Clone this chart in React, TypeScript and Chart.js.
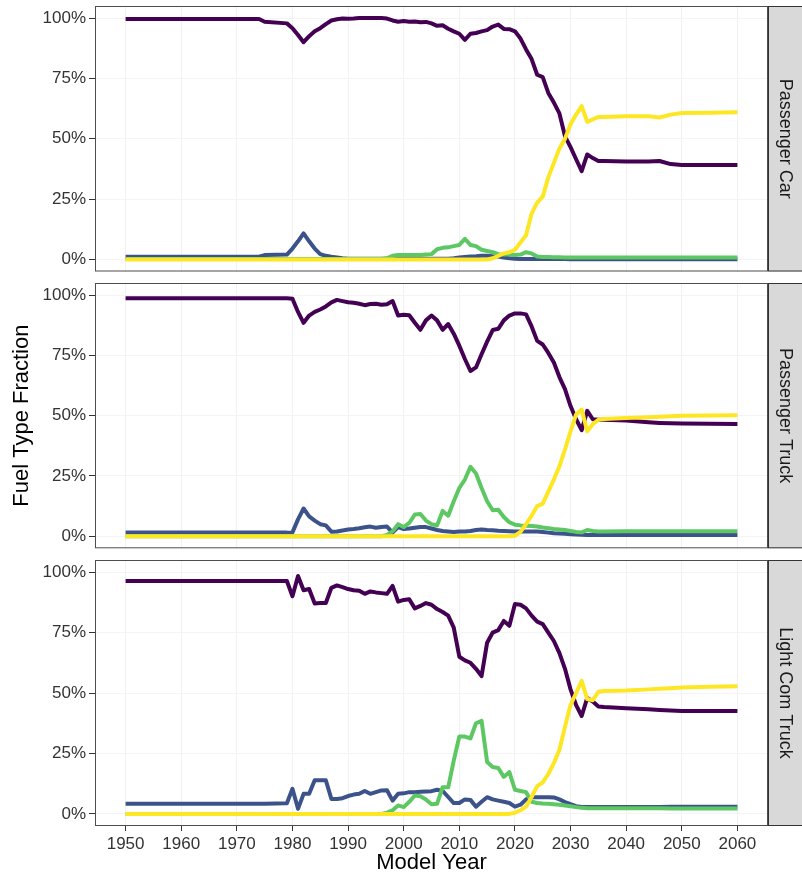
import React, { useEffect, useRef } from "react";
import { Chart, registerables } from "chart.js";

Chart.register(...registerables);
Chart.defaults.font.family = '"Liberation Sans", Arial, sans-serif';

// Model years at which values were read
const years = [
  1950, 1974, 1975,
  1979,
  1980, 1981, 1982, 1983, 1984, 1985, 1986, 1987, 1988, 1989,
  1990, 1991, 1992, 1993, 1994, 1995, 1996, 1997, 1998, 1999,
  2000, 2001, 2002, 2003, 2004, 2005, 2006, 2007, 2008, 2009,
  2010, 2011, 2012, 2013, 2014, 2015, 2016, 2017, 2018, 2019,
  2020, 2021, 2022, 2023, 2024, 2025, 2026, 2027, 2028, 2029,
  2030, 2031, 2032, 2033, 2034, 2035, 2036,
  2040, 2044, 2046, 2048, 2050, 2055, 2060,
];

const xTicks = [1950, 1960, 1970, 1980, 1990, 2000, 2010, 2020, 2030, 2040, 2050, 2060];
const yTicks = [0, 25, 50, 75, 100];
const panelLabels = ["Passenger Car", "Passenger Truck", "Light Com Truck"];

// ---- Passenger Car ----
const carPurple = [
  99.6, 99.6, 98.5,
  97.8,
  95.8, 93, 90, 92.5, 94.5, 95.8, 97.5, 99, 99.5, 99.8,
  99.7, 99.8, 100, 100, 100, 100, 100, 99.8, 99, 98.5,
  98.8, 98.5, 98.6, 98.3, 98.4, 97.8, 96.8, 97, 95.6, 94.5,
  93.5, 91, 93.5, 93.8, 94.5, 95, 96.5, 97.3, 95.5, 95.4,
  94.5, 91.5, 87, 83, 76.5, 75.5, 69, 65, 60.5, 51,
  46.5, 41.5, 36.6, 43.5, 42, 40.8, 40.8,
  40.6, 40.6, 40.8, 39.5, 39.1, 39.1, 39.1,
];
const carBlue = [
  1.1, 1.1, 1.8,
  2,
  4.5, 7.5, 10.8, 7.5, 4.5, 2.2, 1.5, 1.1, 0.8, 0.5,
  0.3, 0.3, 0.3, 0.3, 0.3, 0.3, 0.3, 0.3, 0.3, 0.3,
  0.3, 0.3, 0.3, 0.3, 0.3, 0.3, 0.3, 0.3, 0.3, 0.5,
  0.8, 1, 1.2, 1.3, 1.5, 1.5, 1.3, 1.2, 0.8, 0.5,
  0.3, 0.2, 0.2, 0.2, 0.2, 0.2, 0.2, 0.2, 0.2, 0.2,
  0.1, 0.1, 0.1, 0.1, 0.1, 0.1, 0.1,
  0.1, 0.1, 0.1, 0.1, 0.1, 0.1, 0.1,
];
const carGreen = [
  0.2, 0.2, 0.2,
  0.2,
  0.2, 0.2, 0.2, 0.2, 0.2, 0.2, 0.2, 0.2, 0.2, 0.2,
  0.2, 0.2, 0.2, 0.2, 0.2, 0.2, 0.2, 0.5, 1.5, 1.8,
  1.8, 1.8, 1.8, 1.8, 2, 2.2, 4.2, 4.8, 5, 5.5,
  6, 8.5, 6, 5.5, 4, 3.5, 3, 2.2, 2, 2,
  1.8, 2, 3, 2.5, 1.2, 1, 1, 0.9, 0.9, 0.8,
  0.8, 0.8, 0.8, 0.8, 0.8, 0.8, 0.8,
  0.8, 0.8, 0.8, 0.8, 0.8, 0.8, 0.8,
];
const carYellow = [
  0, 0, 0,
  0,
  0, 0, 0, 0, 0, 0, 0, 0, 0, 0,
  0, 0, 0, 0, 0, 0, 0, 0, 0, 0,
  0, 0, 0, 0, 0, 0, 0, 0, 0, 0,
  0, 0, 0, 0, 0, 0, 0.5, 1.5, 2.5, 3,
  4, 7, 10, 19, 23.5, 26, 34, 40, 46, 50,
  56, 60, 63.5, 57, 58, 59, 59,
  59.3, 59.3, 58.8, 60, 60.7, 60.8, 61,
];

// ---- Passenger Truck ----
const truckPurple = [
  98.7, 98.7, 98.7,
  98.7,
  98.5, 93, 88.5, 91.5, 93, 94, 95.3, 97, 98, 97.5,
  97, 96.8, 96.4, 95.8, 96.3, 96.4, 96, 96.2, 97.5, 91.5,
  91.8, 91.6, 88.5, 85.6, 89.5, 91.5, 89.5, 85.6, 88, 84,
  79, 73.5, 68.5, 70, 75.5, 80.7, 85.5, 86, 89.5, 91.5,
  92.4, 92.4, 92, 87, 81, 79.5, 76, 72, 66, 61,
  54, 48.5, 44, 52, 48.5, 48.3, 48.3,
  48, 47.3, 47, 46.8, 46.7, 46.6, 46.5,
];
const truckBlue = [
  1.5, 1.5, 1.5,
  1.5,
  1.6, 7, 11.5, 8.2, 6.5, 5, 4.5, 1.9, 2, 2.4,
  2.8, 3, 3.3, 3.7, 4, 3.5, 3.8, 4, 1.5, 3.8,
  3, 3.2, 3.5, 3.8, 3.8, 3.2, 2.6, 2.2, 2, 1.8,
  2, 2, 2.2, 2.6, 2.8, 2.6, 2.5, 2.3, 2.2, 2.1,
  2, 2, 2, 2, 2, 1.8, 1.5, 1.2, 1.1, 1,
  0.8, 0.7, 0.6, 0.5, 0.5, 0.5, 0.5,
  0.5, 0.5, 0.5, 0.5, 0.5, 0.5, 0.5,
];
const truckGreen = [
  0, 0, 0,
  0,
  0, 0, 0, 0, 0, 0, 0, 0, 0, 0,
  0, 0, 0, 0, 0, 0, 0, 0.5, 2, 5,
  3.8, 5.5, 9, 9.2, 6.5, 5, 4.5, 10.5, 8.5, 14.5,
  20, 23.5, 28.8, 26, 20, 14.5, 10.8, 11, 8, 5.8,
  4.8, 4.5, 4.3, 4.2, 4, 3.6, 3.3, 3, 2.8, 2.6,
  2.2, 1.8, 1.6, 2.6, 2.2, 2, 2,
  2.1, 2.1, 2.1, 2.1, 2.1, 2.1, 2.1,
];
const truckYellow = [
  0, 0, 0,
  0,
  0, 0, 0, 0, 0, 0, 0, 0, 0, 0,
  0, 0, 0, 0, 0, 0, 0, 0, 0, 0,
  0, 0, 0, 0, 0, 0, 0, 0, 0, 0,
  0, 0, 0, 0, 0, 0, 0, 0, 0, 0,
  0.2, 1.8, 5, 8.5, 12.5, 13.5, 18.5, 23.5, 29, 36,
  43.5, 50.5, 52.5, 43.5, 46.5, 48.3, 48.6,
  49, 49.3, 49.5, 49.8, 50, 50.1, 50.2,
];

// ---- Light Com Truck ----
const lctPurple = [
  96.3, 96.3, 96.3,
  96.3,
  90, 98.4, 92.5, 93, 87, 87.2, 87.2, 93.5, 94.5, 93.8,
  93, 92.5, 92.3, 91, 92, 91.6, 91.3, 91, 94.3, 87.8,
  88.5, 88.8, 85, 86, 87.2, 86.5, 84.7, 83.5, 82, 77,
  65, 63.5, 62.5, 60, 57, 70.8, 75, 76, 79.8, 77.8,
  86.8, 86.5, 85, 82, 79.5, 78.5, 75, 71.5, 66.5, 60,
  51.5, 45, 40.5, 48, 46.5, 44.4, 44.2,
  43.7, 43.3, 43, 42.8, 42.6, 42.6, 42.6,
];
const lctBlue = [
  4.2, 4.2, 4.2,
  4.4,
  10.4, 2.1, 8.3, 8.3, 13.9, 13.9, 13.9, 6.2, 6.2, 6.5,
  7.4, 8, 8.3, 9.5, 8.3, 9, 9.7, 9.8, 5.5, 8.3,
  8.5, 9, 9, 9.2, 9.3, 9.4, 10, 9.5, 7, 4.5,
  4.5, 6, 5.8, 3, 5, 6.9, 6, 5.5, 5, 4.5,
  3, 3.8, 6, 6.9, 6.9, 6.9, 6.9, 6.8, 6, 4.9,
  4, 3.2, 2.9, 2.9, 2.9, 2.9, 2.9,
  2.9, 2.9, 2.9, 3, 3, 3, 3,
];
const lctGreen = [
  0, 0, 0,
  0,
  0, 0, 0, 0, 0, 0, 0, 0, 0, 0,
  0, 0, 0, 0, 0, 0, 0, 0.5, 1.5, 3.5,
  2.8, 5, 7.6, 7.3, 6, 4, 4.2, 11, 11, 22,
  32, 32, 31.2, 37.5, 38.5, 21.5, 19.4, 19, 15.3, 17.3,
  10, 9.5, 9, 5, 4.5, 4.3, 4.2, 4, 3.8, 3.5,
  3.2, 2.8, 2.5, 2.3, 2.3, 2.3, 2.3,
  2.3, 2.3, 2.3, 2.2, 2.2, 2.2, 2.2,
];
const lctYellow = [
  0, 0, 0,
  0,
  0, 0, 0, 0, 0, 0, 0, 0, 0, 0,
  0, 0, 0, 0, 0, 0, 0, 0, 0, 0,
  0, 0, 0, 0, 0, 0, 0, 0, 0, 0,
  0, 0, 0, 0, 0, 0, 0, 0, 0, 0,
  0.5, 1.5, 3, 7, 11.5, 13, 16.5, 21, 26.5, 36,
  45, 50, 55, 47.5, 47, 50.5, 50.8,
  51, 51.5, 51.8, 52, 52.3, 52.6, 52.8,
];

const COLORS = {
  purple: "#440154",
  blue: "#3b528b",
  green: "#5dc863",
  yellow: "#fde725",
};

const W = 802;
const STRIP = 34;

type PanelProps = {
  top: number;
  height: number;
  padTop: number;
  padBottom: number;
  label: string;
  purple: number[];
  blue: number[];
  green: number[];
  yellow: number[];
  showX: boolean;
  showYTitle: boolean;
};

function Panel(p: PanelProps) {
  const ref = useRef<HTMLCanvasElement>(null);
  useEffect(() => {
    if (!ref.current) return;
    const mk = (vals: number[], color: string) => ({
      data: years.map((x, i) => ({ x, y: vals[i] })),
      borderColor: color,
      backgroundColor: color,
      borderWidth: 4,
      pointRadius: 0,
      tension: 0,
      fill: false,
      borderJoinStyle: "round" as const,
    });
    const framePlugin = {
      id: "frame",
      afterDatasetsDraw(chart: any) {
        const { ctx, chartArea: a, width } = chart;
        ctx.save();
        ctx.strokeStyle = "#4d4d4d";
        ctx.lineWidth = 1;
        ctx.strokeRect(a.left + 0.5, a.top + 0.5, a.right - a.left - 1, a.bottom - a.top - 1);
        ctx.fillStyle = "#d9d9d9";
        ctx.fillRect(a.right, a.top, width - a.right, a.bottom - a.top);
        ctx.strokeStyle = "#333333";
        ctx.strokeRect(a.right + 0.5, a.top + 0.5, width - a.right + 5, a.bottom - a.top - 1);
        ctx.translate((a.right + width) / 2, (a.top + a.bottom) / 2);
        ctx.rotate(Math.PI / 2);
        ctx.fillStyle = "#1a1a1a";
        ctx.font = '18px "Liberation Sans", Arial, sans-serif';
        ctx.textAlign = "center";
        ctx.textBaseline = "middle";
        ctx.fillText(p.label, 0, 0);
        ctx.restore();
      },
    };
    const chart = new Chart(ref.current, {
      type: "line",
      data: {
        datasets: [
          mk(p.yellow, COLORS.yellow),
          mk(p.green, COLORS.green),
          mk(p.blue, COLORS.blue),
          mk(p.purple, COLORS.purple),
        ],
      },
      options: {
        animation: false,
        responsive: false,
        maintainAspectRatio: false,
        layout: { padding: { top: p.padTop, bottom: p.padBottom, left: 0, right: STRIP } },
        plugins: { legend: { display: false }, tooltip: { enabled: false } },
        scales: {
          x: {
            type: "linear",
            min: 1944.5,
            max: 2065.5,
            afterBuildTicks: (s: any) => {
              s.ticks = xTicks.map((v) => ({ value: v }));
            },
            ticks: {
              display: p.showX,
              autoSkip: false,
              maxRotation: 0,
              padding: 3,
              color: "#333333",
              font: { size: 17 },
              callback: (v: any) => String(v),
            },
            grid: {
              color: "#f1f1f1",
              drawTicks: p.showX,
              tickLength: 5,
              tickColor: "#333333",
            },
            border: { display: false },
            title: {
              display: p.showX,
              text: "Model Year",
              color: "#000000",
              font: { size: 22 },
              padding: { top: 0, bottom: 2 },
            },
            afterFit: (s: any) => {
              s.height = p.showX ? 52 : 0;
              s.paddingLeft = 0;
              s.paddingRight = 0;
            },
          },
          y: {
            min: -5,
            max: 105,
            afterBuildTicks: (s: any) => {
              s.ticks = yTicks.map((v) => ({ value: v }));
            },
            ticks: {
              padding: 3,
              color: "#333333",
              font: { size: 17 },
              callback: (v: any) => v + "%",
            },
            grid: {
              color: "#f4f4f4",
              tickLength: 6,
              tickColor: "#333333",
            },
            border: { display: false },
            title: {
              display: p.showYTitle,
              text: "Fuel Type Fraction",
              color: "#000000",
              font: { size: 22 },
              padding: { top: 9, bottom: 0 },
            },
            afterFit: (s: any) => {
              s.width = 95;
              s.paddingTop = 0;
              s.paddingBottom = 0;
            },
          },
        },
      } as any,
      plugins: [framePlugin],
    });
    return () => chart.destroy();
  }, []);
  return (
    <canvas
      ref={ref}
      width={W}
      height={p.height}
      style={{ position: "absolute", left: 0, top: p.top, width: W, height: p.height }}
    />
  );
}

export default function App() {
  return (
    <div style={{ position: "absolute", left: 0, top: 0, width: W, height: 878, background: "#ffffff" }}>
      <Panel top={0} height={278} padTop={6} padBottom={6.5} label={panelLabels[0]}
        purple={carPurple} blue={carBlue} green={carGreen} yellow={carYellow} showX={false} showYTitle={false} />
      <Panel top={278} height={277} padTop={5} padBottom={6.7} label={panelLabels[1]}
        purple={truckPurple} blue={truckBlue} green={truckGreen} yellow={truckYellow} showX={false} showYTitle={true} />
      <Panel top={555} height={323} padTop={5} padBottom={0} label={panelLabels[2]}
        purple={lctPurple} blue={lctBlue} green={lctGreen} yellow={lctYellow} showX={true} showYTitle={false} />
    </div>
  );
}
